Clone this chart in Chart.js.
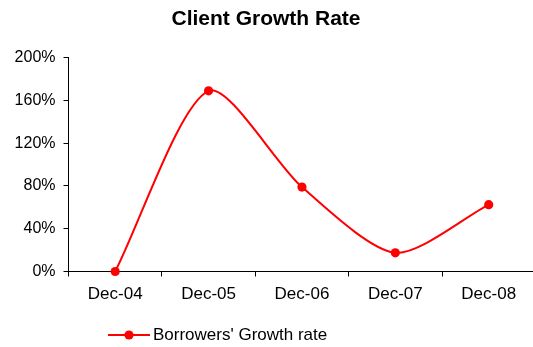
<!DOCTYPE html>
<html>
<head>
<meta charset="utf-8">
<script src="https://cdn.jsdelivr.net/npm/chart.js@4/dist/chart.umd.min.js"></script>
<style>
  html, body { margin: 0; padding: 0; background: #fff; overflow: hidden; }
  #wrap { width: 540px; height: 347px; }
</style>
</head>
<body>
<div id="wrap"><canvas id="c" width="540" height="347"></canvas></div>
<script>
// Year-end periods and the borrowers' growth rate (percent)
const categories = ['Dec-04', 'Dec-05', 'Dec-06', 'Dec-07', 'Dec-08'];
const growthRate = [0, 169, 79, 17.5, 62.5];
const yTickValues = [0, 40, 80, 120, 160, 200];
const seriesLabel = "Borrowers' Growth rate";

const FONT = "'Liberation Sans', Arial, Helvetica, sans-serif";
const RED = '#ff0000';

// Legend marker: a short red line with a dot on it
function makeLegendMarker() {
  const cv = document.createElement('canvas');
  cv.width = 47; cv.height = 12;
  const g = cv.getContext('2d');
  g.strokeStyle = RED; g.lineWidth = 2;
  g.beginPath(); g.moveTo(5, 6); g.lineTo(47, 6); g.stroke();
  g.fillStyle = RED;
  g.beginPath(); g.arc(26, 6, 4.6, 0, Math.PI * 2); g.fill();
  return cv;
}

// Nudge the title a little left and place the legend row left of centre
const boxPlacer = {
  id: 'boxPlacer',
  afterLayout(chart) {
    const tb = chart.titleBlock;
    if (tb) { tb.left -= 4; tb.right -= 4; }
    const lg = chart.legend;
    if (!lg || !lg.legendHitBoxes || !lg.legendHitBoxes.length) return;
    const pad = lg.options.labels.padding;
    const itemW = lg.legendHitBoxes[0].width;
    const itemH = lg.legendHitBoxes[0].height;
    const naturalX = (lg.left + lg.right - itemW) / 2;
    const dx = 108.5 - naturalX;
    const naturalCy = lg.top + pad + itemH / 2;
    const dy = 335 - naturalCy;
    lg.left += dx; lg.right += dx;
    lg.top += dy; lg.bottom += dy;
  }
};

new Chart(document.getElementById('c'), {
  type: 'line',
  data: {
    labels: categories,
    datasets: [{
      label: seriesLabel,
      data: growthRate,
      borderColor: RED,
      backgroundColor: RED,
      borderWidth: 2,
      pointRadius: 4.6,
      pointHoverRadius: 4.6,
      pointBackgroundColor: RED,
      pointBorderWidth: 0,
      tension: 0.26,
      fill: false,
      clip: false
    }]
  },
  options: {
    responsive: false,
    animation: false,
    devicePixelRatio: 1,
    layout: { padding: { left: 0, right: 0, top: 0, bottom: 0 } },
    plugins: {
      title: {
        display: true,
        text: 'Client Growth Rate',
        color: '#000',
        font: { family: FONT, size: 21, weight: 'bold' },
        padding: { top: 7, bottom: 25.5 }
      },
      legend: {
        display: true,
        position: 'bottom',
        labels: {
          color: '#000',
          font: { family: FONT, size: 17 },
          usePointStyle: true,
          pointStyle: makeLegendMarker(),
          pointStyleWidth: 36,
          padding: 10
        }
      },
      tooltip: { enabled: false }
    },
    scales: {
      x: {
        offset: true,
        grid: {
          offset: true,
          drawOnChartArea: false,
          drawTicks: true,
          tickLength: 5,
          color: '#000',
          lineWidth: 1
        },
        border: { color: '#000', width: 1 },
        ticks: {
          color: '#000',
          font: { family: FONT, size: 17 },
          padding: 8,
          maxRotation: 0,
          autoSkip: false
        },
        afterFit(s) { s.height = 38.5; }
      },
      y: {
        min: 0,
        max: 200,
        afterBuildTicks(s) { s.ticks = yTickValues.map(v => ({ value: v })); },
        grid: {
          drawOnChartArea: false,
          drawTicks: true,
          tickLength: 5,
          color: '#000',
          lineWidth: 1
        },
        border: { color: '#000', width: 1 },
        ticks: {
          color: '#000',
          font: { family: FONT, size: 16 },
          padding: 8,
          callback: v => v + '%'
        },
        afterFit(s) { s.width = 68.5; }
      }
    }
  },
  plugins: [boxPlacer]
});
</script>
</body>
</html>
